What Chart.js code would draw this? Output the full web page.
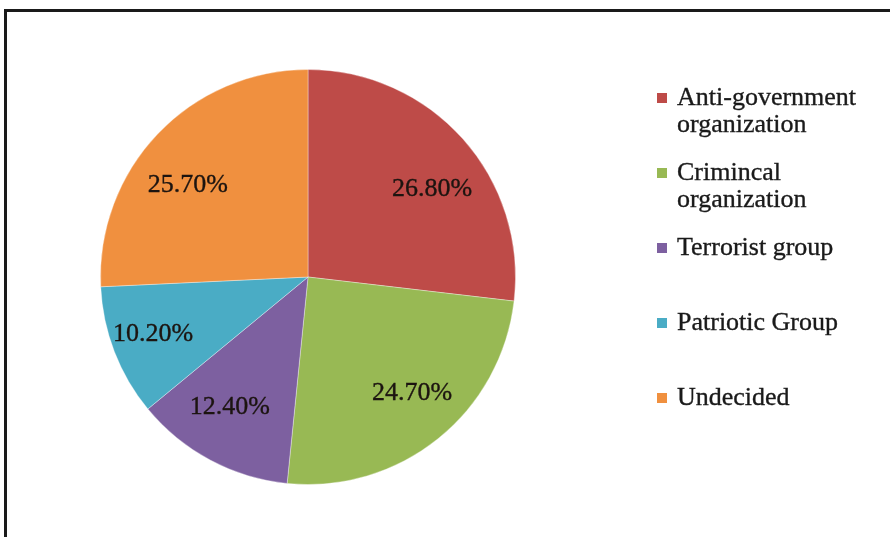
<!DOCTYPE html>
<html>
<head>
<meta charset="utf-8">
<script src="https://cdn.jsdelivr.net/npm/chart.js@4.4.1/dist/chart.umd.min.js"></script>
<style>
    html, body { margin: 0; padding: 0; background: #fff; overflow: hidden; }
    #wrap { position: relative; width: 890px; height: 537px; }
    #frame {
        position: absolute; left: 4px; top: 9px; width: 1000px; height: 1000px;
        border-left: 3px solid #1a1a1a; border-top: 3px solid #1a1a1a;
    }
    #pie { position: absolute; left: 0; top: 0; }
</style>
</head>
<body>
<div id="wrap">
    <div id="frame"></div>
    <canvas id="pie" width="890" height="537"></canvas>
</div>
<script>
// data
const categories = ['Anti-government\norganization', 'Crimincal\norganization', 'Terrorist group', 'Patriotic Group', 'Undecided'];
const shares = [26.8, 24.7, 12.4, 10.2, 25.7];
const sliceLabels = ['26.80%', '24.70%', '12.40%', '10.20%', '25.70%'];
const sliceColors = ['#BE4B48', '#98B954', '#7D60A0', '#4AACC5', '#F0903F'];

const serif = '"Liberation Serif", "Times New Roman", serif';

// percentage labels inside the slices (Excel puts them on a flattened ring)
const sliceLabelPlugin = {
    id: 'sliceLabels',
    afterDatasetsDraw(chart) {
        const ctx = chart.ctx;
        const meta = chart.getDatasetMeta(0);
        ctx.save();
        ctx.font = '26px ' + serif;
        ctx.fillStyle = '#1c1410';
        ctx.strokeStyle = '#1c1410';
        ctx.lineWidth = 0.35;
        ctx.textAlign = 'center';
        ctx.textBaseline = 'middle';
        meta.data.forEach((arc, i) => {
            const p = arc.getProps(['x', 'y', 'startAngle', 'endAngle', 'outerRadius'], true);
            const mid = (p.startAngle + p.endAngle) / 2;
            const lx = p.x + Math.cos(mid) * p.outerRadius * 0.8;
            const ly = p.y + Math.sin(mid) * p.outerRadius * 0.68 + 6;
            ctx.fillText(sliceLabels[i], lx, ly);
            ctx.strokeText(sliceLabels[i], lx, ly);
        });
        ctx.restore();
    }
};

// legend on the right, entries on a fixed pitch like the original
const sideLegendPlugin = {
    id: 'sideLegend',
    afterDraw(chart) {
        const ctx = chart.ctx;
        const x0 = 657, textX = 677, firstBase = 105, pitch = 75, lineH = 27;
        ctx.save();
        ctx.font = '26px ' + serif;
        ctx.textAlign = 'left';
        ctx.textBaseline = 'alphabetic';
        ctx.lineWidth = 0.35;
        categories.forEach((name, i) => {
            const base = firstBase + i * pitch;
            ctx.fillStyle = sliceColors[i];
            ctx.fillRect(x0, base - 12, 10, 10);
            ctx.fillStyle = '#1a1a1a';
            ctx.strokeStyle = '#1a1a1a';
            name.split('\n').forEach((line, j) => {
                ctx.fillText(line, textX, base + j * lineH);
                ctx.strokeText(line, textX, base + j * lineH);
            });
        });
        ctx.restore();
    }
};

new Chart(document.getElementById('pie').getContext('2d'), {
    type: 'pie',
    data: {
        labels: categories,
        datasets: [{
            data: shares,
            backgroundColor: sliceColors,
            borderColor: 'rgba(255,255,255,0.35)',
            borderWidth: 1
        }]
    },
    options: {
        responsive: false,
        animation: false,
        layout: { padding: { left: 100, right: 374, top: 69, bottom: 52 } },
        plugins: {
            legend: { display: false },
            tooltip: { enabled: false }
        }
    },
    plugins: [sliceLabelPlugin, sideLegendPlugin]
});
</script>
</body>
</html>
